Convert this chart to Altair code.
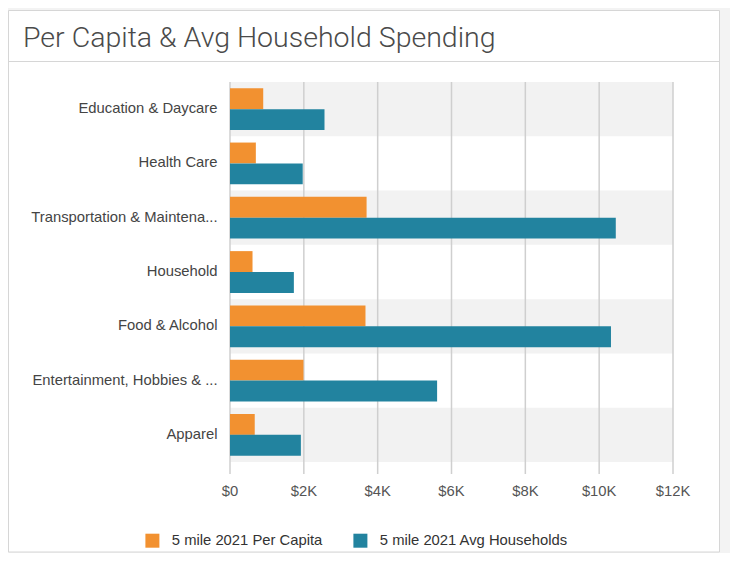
import altair as alt
import pandas as pd

categories = [
    "Education & Daycare",
    "Health Care",
    "Transportation & Maintena...",
    "Household",
    "Food & Alcohol",
    "Entertainment, Hobbies & ...",
    "Apparel",
]
series_names = ["5 mile 2021 Per Capita", "5 mile 2021 Avg Households"]
per_capita = [900, 700, 3700, 610, 3670, 1990, 670]
avg_households = [2560, 1970, 10450, 1730, 10320, 5610, 1920]
x_ticks = [0, 2000, 4000, 6000, 8000, 10000, 12000]
x_tick_labels = ["$0", "$2K", "$4K", "$6K", "$8K", "$10K", "$12K"]
title_text = "Per Capita & Avg Household Spending"

colors = ["#f29130", "#22839f"]

rows = []
for c, a, b in zip(categories, per_capita, avg_households):
    rows.append({"category": c, "series": series_names[0], "value": a})
    rows.append({"category": c, "series": series_names[1], "value": b})
bars_df = pd.DataFrame(rows)
bands_df = pd.DataFrame({"category": [c for i, c in enumerate(categories) if i % 2 == 0]})
ticks_df = pd.DataFrame({"value": x_ticks, "label": x_tick_labels})
title_df = pd.DataFrame({"t": [title_text]})

W, H = 443, 380
PL, PT = 222, 74
PR = 722 - PL - W
PB = 545 - PT - H

FONT = "Liberation Sans"
FS = 14.8

xscale = alt.Scale(domain=[0, 12000], nice=False)
yscale = alt.Scale(paddingInner=0, paddingOuter=0)
xaxis = alt.Axis(values=x_ticks, grid=False, ticks=False, labels=False, domain=True,
                 domainColor="#b0b0b0", domainWidth=1.5, offset=12)

card = alt.Chart(title_df).mark_rect(fill="white", stroke="#d6d6d6", strokeWidth=1).encode(
    x=alt.value(8.5 - 230), x2=alt.value(719.5 - 230),
    y=alt.value(10.5 - 82), y2=alt.value(552 - 82),
)
divider = alt.Chart(title_df).mark_rule(color="#d6d6d6", strokeWidth=1).encode(
    x=alt.value(8.5 - 230), x2=alt.value(719.5 - 230), y=alt.value(61.5 - 82),
)
title = alt.Chart(title_df).mark_text(
    align="left", baseline="alphabetic", font="Roboto", fontWeight=300, fontSize=28.5, color="#4a4a4a"
).encode(x=alt.value(23 - 230), y=alt.value(47 - 82), text="t:N")

bands = alt.Chart(bands_df).mark_rect(color="#f2f2f2").encode(
    y=alt.Y("category:N", sort=categories, scale=yscale, title=None),
    x=alt.value(0), x2=alt.value(W),
)

grid = alt.Chart(ticks_df).mark_rule(color="#cfcfcf", strokeWidth=1.5).encode(
    x=alt.X("value:Q", scale=xscale, title=None, axis=xaxis),
    y=alt.value(0), y2=alt.value(H + 12),
)

tick_text = alt.Chart(ticks_df).mark_text(
    baseline="middle", align="center", font=FONT, fontSize=FS, color="#555"
).encode(
    x=alt.X("value:Q", scale=xscale, title=None, axis=xaxis),
    y=alt.value(492 - 82),
    text="label:N",
)

bars = alt.Chart(bars_df).mark_bar().encode(
    y=alt.Y("category:N", sort=categories, scale=yscale, title=None,
            axis=alt.Axis(ticks=False, domain=False, labelPadding=13, labelFontSize=FS,
                          labelColor="#444", labelFont=FONT, labelLimit=220)),
    yOffset=alt.YOffset("series:N", sort=series_names,
                        scale=alt.Scale(paddingInner=0, paddingOuter=0.3)),
    x=alt.X("value:Q", scale=xscale, title=None, axis=xaxis),
    color=alt.Color("series:N", sort=series_names,
                    scale=alt.Scale(domain=series_names, range=colors),
                    legend=alt.Legend(title=None, orient="none", legendX=145 - 230, legendY=533 - 82,
                                      direction="horizontal", symbolType="square", symbolSize=196,
                                      symbolStrokeWidth=0, labelFontSize=FS, labelColor="#333",
                                      labelFont=FONT, labelOffset=12, columnPadding=30,
                                      labelLimit=400)),
)

chart = alt.layer(card, divider, title, bands, grid, tick_text, bars).properties(
    width=W, height=H,
    autosize=alt.AutoSizeParams(type="none"),
    padding={"left": PL, "top": PT, "right": PR, "bottom": PB},
    background="#f3f3f3",
).configure_view(stroke=None)

chart.save("out.html", embed_options={"renderer": "svg", "actions": False})
